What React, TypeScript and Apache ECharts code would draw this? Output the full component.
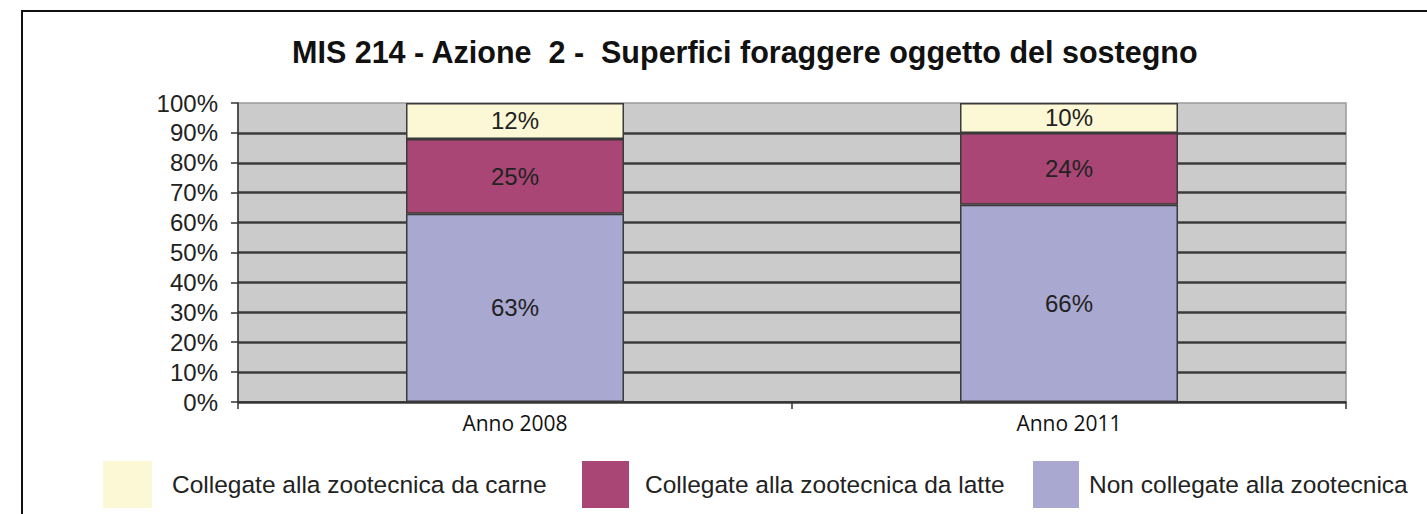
import React, { useEffect, useRef } from "react";
import * as echarts from "echarts";

const categories = ["Anno 2008", "Anno 2011"];
const nonCollegate = [63, 66];
const latte = [25, 24];
const carne = [12, 10];
const seriesNames = [
  "Non collegate alla zootecnica",
  "Collegate alla zootecnica da latte",
  "Collegate alla zootecnica da carne",
];
const titleText = "MIS 214 - Azione  2 -  Superfici foraggere oggetto del sostegno";

export default function App() {
  const ref = useRef<HTMLDivElement>(null);
  useEffect(() => {
    if (!ref.current) return;
    const chart = echarts.init(ref.current, undefined, { renderer: "svg" });
    const label = {
      show: true,
      position: "inside",
      formatter: "{c}%",
      fontFamily: "Liberation Sans, Arial, sans-serif",
      fontSize: 24,
      color: "#222",
    };
    const mk = (name: string, data: number[], color: string) => ({
      name,
      type: "bar",
      stack: "tot",
      barWidth: 218,
      data,
      label,
      itemStyle: { color, borderColor: "#3a3a3a", borderWidth: 1.5 },
    });
    const legendText = (pad: number) => ({
      fontFamily: "Liberation Sans, Arial, sans-serif",
      fontSize: 24.5,
      color: "#222",
      padding: [0, 0, 0, pad],
    });
    chart.setOption({
      animation: false,
      backgroundColor: "#ffffff",
      title: {
        text: titleText,
        left: 292,
        top: 36,
        padding: 0,
        textStyle: {
          fontFamily: "Liberation Sans, Arial, sans-serif",
          fontWeight: "bold",
          fontSize: 30.5,
          color: "#111",
        },
      },
      graphic: [
        {
          type: "rect",
          shape: { x: 22, y: 11, width: 1500, height: 600 },
          style: { fill: "none", stroke: "#111", lineWidth: 2 },
          silent: true,
        },
      ],
      legend: [
        {
          data: [seriesNames[2]],
          left: 103,
          top: 461,
          padding: 0,
          itemWidth: 49,
          itemHeight: 47,
          icon: "rect",
          itemStyle: { borderWidth: 0 },
          textStyle: legendText(15),
        },
        {
          data: [seriesNames[1]],
          left: 582,
          top: 461,
          padding: 0,
          itemWidth: 47,
          itemHeight: 47,
          icon: "rect",
          itemStyle: { borderWidth: 0 },
          textStyle: legendText(11),
        },
        {
          data: [seriesNames[0]],
          left: 1033,
          top: 461,
          padding: 0,
          itemWidth: 46,
          itemHeight: 47,
          icon: "rect",
          itemStyle: { borderWidth: 0 },
          textStyle: legendText(5),
        },
      ],
      grid: {
        left: 238,
        right: 81,
        top: 103,
        bottom: 112,
        show: true,
        backgroundColor: "#cbcbcb",
        borderColor: "#9a9a9a",
        borderWidth: 1.5,
      },
      xAxis: {
        type: "category",
        data: categories,
        axisLine: { lineStyle: { color: "#333", width: 1.5 } },
        axisTick: { show: true, length: 7, lineStyle: { color: "#333", width: 1.5 } },
        axisLabel: {
          fontFamily: "Open Sans, sans-serif",
          fontSize: 21,
          color: "#111",
          margin: 10,
        },
      },
      yAxis: {
        type: "value",
        min: 0,
        max: 100,
        interval: 10,
        axisLine: { show: true, lineStyle: { color: "#333", width: 1.5 } },
        axisTick: { show: true, length: 7, lineStyle: { color: "#333", width: 1.5 } },
        axisLabel: {
          formatter: "{value}%",
          fontFamily: "Liberation Sans, Arial, sans-serif",
          fontSize: 24,
          color: "#222",
          margin: 20,
        },
        splitLine: {
          show: true,
          showMaxLine: false,
          lineStyle: { color: "#3c3c3c", width: 2.5 },
        },
      },
      series: [
        mk(seriesNames[0], nonCollegate, "#a9a8d0"),
        mk(seriesNames[1], latte, "#a94675"),
        mk(seriesNames[2], carne, "#fcf7d5"),
      ],
    });
    return () => chart.dispose();
  }, []);
  return (
    <div
      ref={ref}
      style={{ position: "fixed", left: 0, top: 0, width: 1427, height: 514 }}
    />
  );
}
